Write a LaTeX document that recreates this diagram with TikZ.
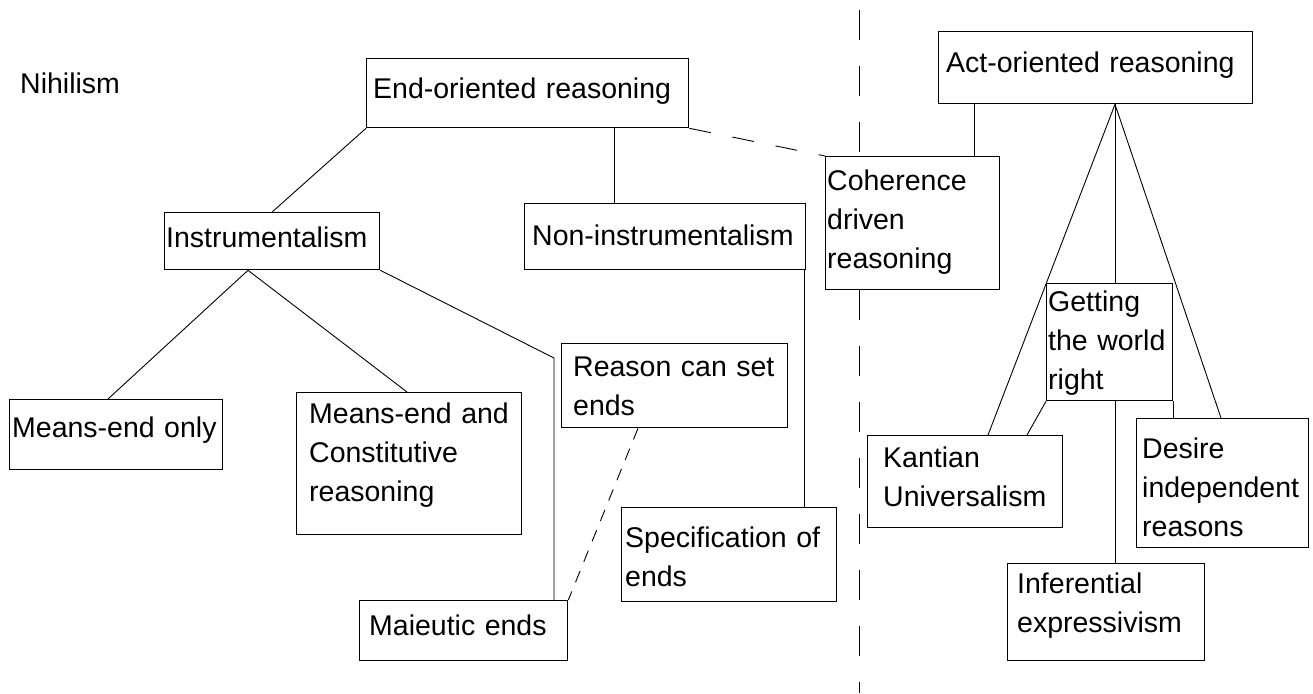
\documentclass[tikz,border=0pt]{standalone}
\usepackage{fontspec}
\setmainfont{Liberation Sans}
\usetikzlibrary{calc,backgrounds}
\begin{document}
\begin{tikzpicture}[x=1pt,y=-1pt,
  bx/.style={draw, line width=1.3pt, fill=white, inner sep=0pt, anchor=north west},
  tx/.style={anchor=base west, inner sep=0pt, text width=320pt, align=left, font=\fontsize{28.5}{39}\selectfont},
  ln/.style={line width=0.9pt},
  dshA/.style={line width=0.9pt, dash pattern=on 22pt off 22pt},
  dshB/.style={line width=0.9pt, dash pattern=on 12pt off 10pt},
  dshC/.style={line width=0.9pt, dash pattern=on 30pt off 26pt}]
\useasboundingbox (0,0) rectangle (1313,693);

% boxes
\node[bx, minimum width=322pt, minimum height=69pt] (end) at (366,58) {};
\node[bx, minimum width=215pt, minimum height=57pt] (instr) at (164,212) {};
\node[bx, minimum width=281pt, minimum height=66pt] (non) at (524,203) {};
\node[bx, minimum width=213pt, minimum height=70pt] (meo) at (9,399) {};
\node[bx, minimum width=225pt, minimum height=142pt] (mec) at (296,392) {};
\node[bx, minimum width=226pt, minimum height=84pt] (rea) at (561,343) {};
\node[bx, minimum width=208pt, minimum height=60pt] (mai) at (359,600) {};
\node[bx, minimum width=215pt, minimum height=94pt] (spe) at (621,507) {};
\node[bx, minimum width=174pt, minimum height=133pt] (coh) at (825,156) {};
\node[bx, minimum width=314pt, minimum height=72pt] (act) at (938,31) {};
\node[bx, minimum width=126pt, minimum height=117pt] (get) at (1046,283) {};
\node[bx, minimum width=195pt, minimum height=92pt] (kan) at (867,435) {};
\node[bx, minimum width=172pt, minimum height=129pt] (des) at (1136,418) {};
\node[bx, minimum width=197pt, minimum height=97pt] (inf) at (1007,563) {};

% texts
\node[tx] (nih) at (20,93) {Nihilism};
\node[tx] (endt) at (373,98) {End-oriented reasoning};
\node[tx] (instrt) at (166,247) {Instrumentalism};
\node[tx] (nont) at (532,245) {Non-instrumentalism};
\node[tx] (meot) at (12,437) {Means-end only};
\node[tx] (mect) at (309,423) {Means-end and\\Constitutive\\reasoning};
\node[tx] (reat) at (573,376) {Reason can set\\ends};
\node[tx] (mait) at (369,635) {Maieutic ends};
\node[tx] (spet) at (625,547) {Specification of\\ends};
\node[tx] (coht) at (827,190) {Coherence\\driven\\reasoning};
\node[tx] (actt) at (946,72) {Act-oriented reasoning};
\node[tx] (gett) at (1048,311) {Getting\\the world\\right};
\node[tx] (kant) at (883,467) {Kantian\\Universalism};
\node[tx] (dest) at (1142,458) {Desire\\independent\\reasons};
\node[tx] (inft) at (1017,593) {Inferential\\expressivism};

% connectors
\coordinate (vt) at (859,10);
\coordinate (vb) at (859,693);
\coordinate (eb) at ($(end.south west)+(248,0)$);
\coordinate (ib) at ($(instr.south west)+(84,0)$);
\coordinate (bend) at (554,358);
\coordinate (rb) at ($(rea.south west)+(77,0)$);
\coordinate (nb) at ($(non.south east)+(-2,0)$);
\coordinate (ab) at ($(act.south west)+(36,0)$);
\coordinate (apex) at ($(act.south west)+(177,0)$);
\coordinate (gb) at ($(get.south west)+(69,0)$);
\begin{scope}[on background layer]
\draw[dshC] (vt) -- (vb);
\draw[ln] (end.south west) -- (instr.north);
\draw[ln] (eb) -- (eb |- non.north);
\draw[dshA] (end.south east) -- (coh.north west);
\draw[ln] (ib) -- ($(meo.north west)+(99,0)$);
\draw[ln] (ib) -- ($(mec.north west)+(111,0)$);
\draw[ln] (instr.south east) -- (bend) -- (bend |- mai.north);
\draw[dshB] (rb) -- (mai.north east);
\draw[ln] (nb) -- (nb |- spe.north);
\draw[ln] (ab) -- (ab |- coh.north);
\draw[ln] (apex) -- ($(kan.north west)+(121,0)$);
\draw[ln] (apex) -- (apex |- get.north);
\draw[ln] (apex) -- ($(des.north west)+(85,0)$);
\draw[ln] (get.south west) -- ($(kan.north west)+(160,0)$);
\draw[ln] (gb) -- (gb |- inf.north);
\draw[ln] (get.south east) -- (get.south east |- des.north);
\end{scope}
\end{tikzpicture}
\end{document}
